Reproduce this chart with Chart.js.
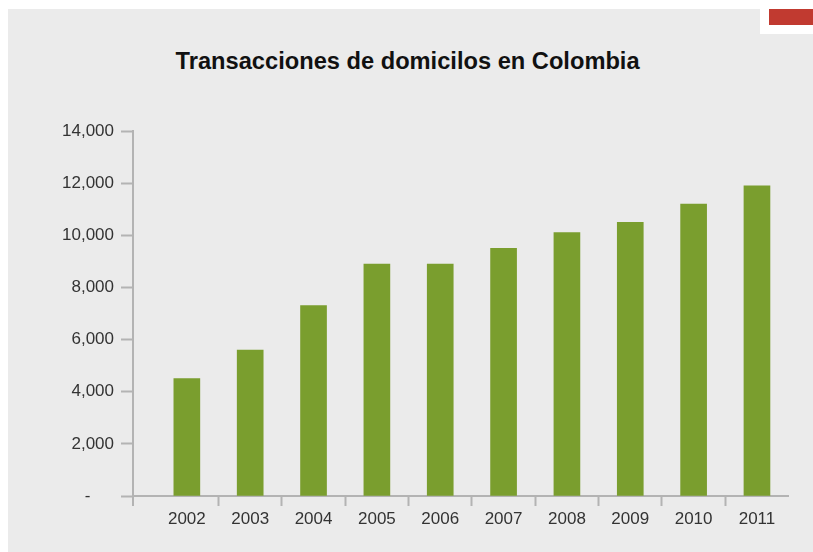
<!DOCTYPE html>
<html>
<head>
<meta charset="utf-8">
<script src="https://cdn.jsdelivr.net/npm/chart.js@4.4.0/dist/chart.umd.min.js"></script>
<style>
html,body{margin:0;padding:0;background:#fff;width:813px;height:552px;overflow:hidden;}
#bg{position:absolute;left:8px;top:9px;right:0;bottom:0;background:#ebebeb;}
#notch{position:absolute;left:760px;top:0;width:53px;height:34px;background:#fff;}
#flag{position:absolute;left:769px;top:9px;width:44px;height:16px;background:#c13a30;}
#title{position:absolute;left:176px;width:464px;top:50px;text-align:center;white-space:nowrap;}
#title span{display:inline-block;font-weight:bold;font-size:23px;line-height:23px;font-family:"Liberation Sans","Arial",sans-serif;color:#111;transform-origin:center center;}
#wrap{position:absolute;left:0;top:0;width:813px;height:552px;}
</style>
</head>
<body>
<div id="bg"></div>
<div id="notch"></div>
<div id="flag"></div>
<div id="title"><span id="tt">Transacciones de domicilos en Colombia</span></div>
<div id="wrap"><canvas id="c" width="813" height="552"></canvas></div>
<script>
const titleText = "Transacciones de domicilos en Colombia";
const years = [2002, 2003, 2004, 2005, 2006, 2007, 2008, 2009, 2010, 2011];
const values = [4500, 5600, 7300, 8900, 8900, 9500, 10100, 10500, 11200, 11900];
const yTicks = [0, 2000, 4000, 6000, 8000, 10000, 12000, 14000];
const yTickLabels = ["-\u2007\u2007 ", "2,000", "4,000", "6,000", "8,000", "10,000", "12,000", "14,000"];

const tt = document.getElementById('tt');
tt.textContent = titleText;
const w = tt.getBoundingClientRect().width;
if (w > 0) tt.style.transform = 'scaleX(' + (464 / w) + ')';

const axisGrey = '#b3b3b3';
new Chart(document.getElementById('c'), {
  type: 'bar',
  data: {
    datasets: [{
      data: years.map((y, i) => ({x: y, y: values[i]})),
      backgroundColor: '#7a9e2e',
      borderWidth: 0,
      barThickness: 26
    }]
  },
  options: {
    responsive: false,
    animation: false,
    devicePixelRatio: 1,
    layout: {padding: {top: 131, right: 25, bottom: 47, left: 0}},
    plugins: {legend: {display: false}, tooltip: {enabled: false}, title: {display: false}},
    scales: {
      x: {
        type: 'linear',
        position: {y: 0},
        offset: false,
        bounds: 'data',
        min: 2001.15,
        max: 2011.49,
        afterBuildTicks: s => { s.ticks = years.map(v => ({value: v})); },
        ticks: {
          callback: v => String(v),
          font: {family: 'Liberation Sans', size: 17},
          color: '#333333',
          padding: 4,
          maxRotation: 0,
          autoSkip: false
        },
        grid: {
          offset: true,
          drawOnChartArea: false,
          drawTicks: true,
          tickLength: 9,
          tickWidth: 2,
          tickColor: c => (c.index >= 1 && c.index <= 9) ? axisGrey : 'rgba(0,0,0,0)'
        },
        border: {color: axisGrey, width: 2}
      },
      y: {
        type: 'linear',
        bounds: 'data',
        min: -345,
        max: 14000,
        afterBuildTicks: s => { s.ticks = yTicks.map(v => ({value: v})); },
        afterFit: s => { s.width = 133; },
        ticks: {
          callback: v => yTickLabels[yTicks.indexOf(v)],
          font: {family: 'Liberation Sans', size: 17},
          color: '#333333',
          padding: 7
        },
        grid: {
          drawOnChartArea: false,
          drawTicks: true,
          tickLength: 12,
          tickWidth: 2,
          tickColor: axisGrey
        },
        border: {color: axisGrey, width: 2}
      }
    }
  }
});
</script>
</body>
</html>
